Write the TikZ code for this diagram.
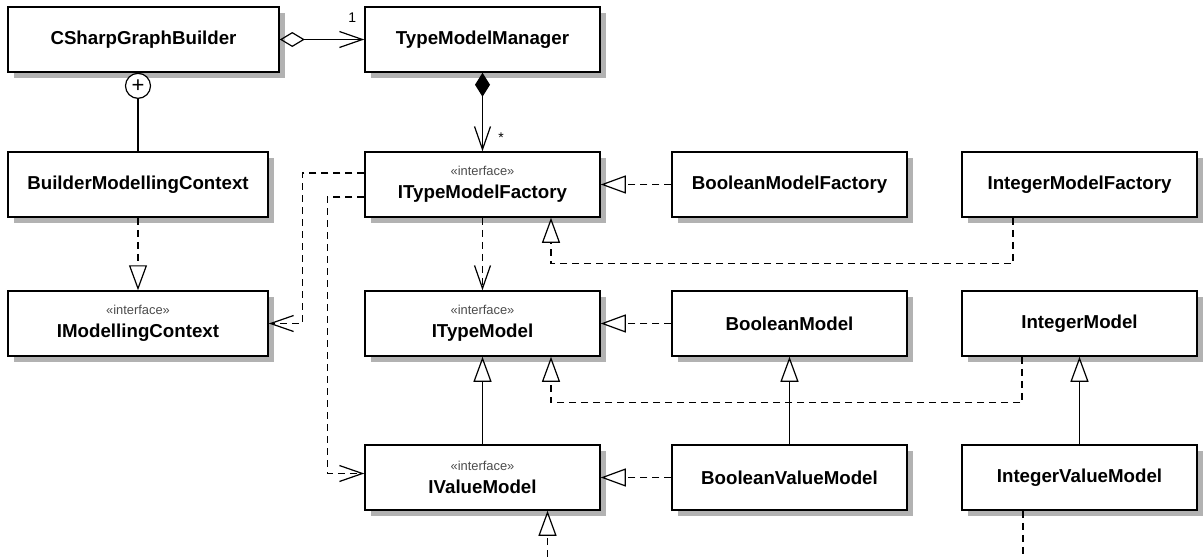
\documentclass[tikz,border=0pt]{standalone}
\usepackage{fontspec}
\setmainfont{Liberation Sans}
\usetikzlibrary{arrows.meta,shadows}

\newcommand{\ifacetag}{{\fontsize{12.9}{14}\selectfont\mdseries\color{black!70}«interface»}}

\begin{document}
\begin{tikzpicture}[x=1pt,y=1pt,
  cls/.style={draw, line width=1.5pt, fill=white, inner sep=0pt,
    minimum width=235pt, minimum height=65pt, align=center,
    font=\bfseries\fontsize{18.7}{23}\selectfont,
    drop shadow={shadow xshift=5.5pt, shadow yshift=-5.5pt, fill=black!30, opacity=1}},
  conn/.style={line width=1.2pt},
  dashedconn/.style={conn, dash pattern=on 7pt off 5pt},
  gen/.style={conn, -{Triangle[open,length=25pt,width=18pt]}},
  real/.style={dashedconn, -{Triangle[open,length=25pt,width=18pt]}},
  dep/.style={dashedconn, -{Straight Barb[length=23pt,width=16pt]}},
  mult/.style={font=\fontsize{14}{14}\selectfont}]
\useasboundingbox (0,0) rectangle (1203,-557);
% Classes
\node[cls, minimum width=271pt] (builder) at (143.5,-39.5) {CSharpGraphBuilder};
\node[cls] (manager) at (482.5,-39.5) {TypeModelManager};
\node[cls, minimum width=260pt] (context) at (138,-184.5) {BuilderModellingContext};
\node[cls] (factory) at (482.5,-184.5) {\ifacetag\\ITypeModelFactory};
\node[cls] (boolfactory) at (789.5,-184.5) {BooleanModelFactory};
\node[cls] (intfactory) at (1079.5,-184.5) {IntegerModelFactory};
\node[cls, minimum width=260pt] (icontext) at (138,-323.5) {\ifacetag\\IModellingContext};
\node[cls] (typemodel) at (482.5,-323.5) {\ifacetag\\ITypeModel};
\node[cls] (boolmodel) at (789.5,-323.5) {BooleanModel};
\node[cls] (intmodel) at (1079.5,-323.5) {IntegerModel};
\node[cls] (valuemodel) at (482.5,-477.5) {\ifacetag\\IValueModel};
\node[cls] (boolvalue) at (789.5,-477.5) {BooleanValueModel};
\node[cls] (intvalue) at (1079.5,-477.5) {IntegerValueModel};
% Aggregation and composition
\draw[conn, {Diamond[open,length=25pt,width=15pt]}-{Straight Barb[length=23pt,width=16pt]}]
  (builder) -- node[mult, pos=1, xshift=-12pt, yshift=21.5pt] {1} (manager);
\draw[conn, {Diamond[length=24pt,width=15pt]}-{Straight Barb[length=23pt,width=16pt]}]
  (manager) -- node[mult, pos=1, xshift=18.5pt, yshift=14pt] {*} (factory);
% Nested class
\node[draw, circle, line width=1.2pt, fill=white, minimum size=25pt, inner sep=0pt,
  anchor=north, font=\fontsize{22}{22}\selectfont] (nest) at (builder.south -| context.north) {+};
\draw[conn] (nest) -- (context);
% Dependencies
\draw[real] (context) -- (icontext);
\draw[dep] (factory) -- (typemodel);
\draw[dep] ([yshift=11.5pt]factory.west) -- ++(-62pt,0) |- (icontext.east);
\draw[dep] ([yshift=-12.5pt]factory.west) -- ++(-37pt,0) |- ([yshift=4pt]valuemodel.west);
% Realizations
\draw[real] (boolfactory) -- (factory);
\draw[real] ([xshift=-66.5pt]intfactory.south) -- ++(0,-46pt) -| ([xshift=68.5pt]factory.south);
\draw[real] (boolmodel) -- (typemodel);
\draw[real] ([xshift=-57.5pt]intmodel.south) -- ++(0,-46pt) -| ([xshift=68.5pt]typemodel.south);
\draw[real] (boolvalue) -- (valuemodel);
% Generalizations
\draw[gen] (valuemodel) -- (typemodel);
\draw[gen] (boolvalue) -- (boolmodel);
\draw[gen] (intvalue) -- (intmodel);
% Links running off the bottom edge
\coordinate (valuein) at (547.5,-557);
\coordinate (intout) at (1023,-557);
\draw[real] (valuein) -- (valuein |- valuemodel.south);
\draw[dashedconn] (intout |- intvalue.south) -- (intout);
\end{tikzpicture}
\end{document}
